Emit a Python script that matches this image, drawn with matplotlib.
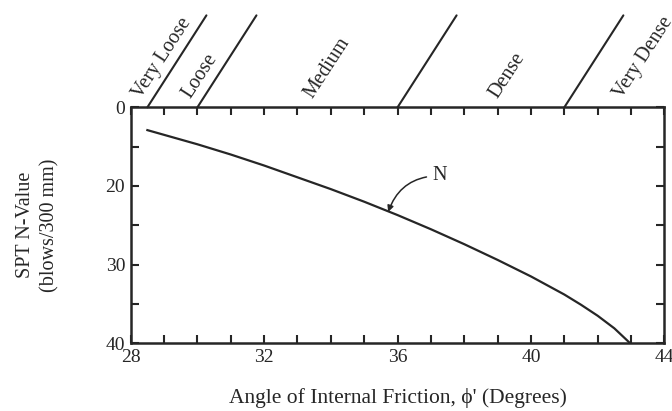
import matplotlib
matplotlib.use("Agg")
import matplotlib.pyplot as plt

plt.rcParams['font.family'] = ['Liberation Serif', 'DejaVu Serif']

# curve (phi in degrees, N on the printed axis)
phi = [28.5, 30.0, 31.0, 32.0, 33.0, 34.0, 35.0, 36.0, 37.0, 38.0, 39.0, 40.0, 41.0, 41.5, 42.0, 42.5, 42.95]
n_val = [12.9, 14.7, 16.0, 17.4, 18.9, 20.4, 22.0, 23.7, 25.5, 27.4, 29.4, 31.5, 33.8, 35.1, 36.5, 38.1, 39.9]

# relative density boundaries along the top and their labels
dens_lines = [28.5, 30.0, 36.0, 41.0]
dens_names = ['Very Loose', 'Loose', 'Medium', 'Dense', 'Very Dense']
dens_label_x = [28.42, 29.92, 33.57, 39.12, 42.85]

ytick_vals = [10, 20, 30, 40]
ytick_text = ['0', '20', '30', '40']
xtick_vals = [28, 32, 36, 40, 44]

ink = '#262626'

fig = plt.figure(figsize=(6.72, 4.11), dpi=100)
fig.patch.set_facecolor('white')
ax = fig.add_axes([0.1945, 0.1647, 0.7942, 0.5742])

ax.plot(phi, n_val, color=ink, lw=1.6)

ax.set_xlim(28, 44)
ax.set_ylim(40, 10)
ax.set_xticks(xtick_vals)
ax.set_xticks(range(29, 44), minor=True)
ax.set_yticks(ytick_vals)
ax.set_yticklabels(ytick_text)
ax.set_yticks([15, 25, 35], minor=True)

for s in ax.spines.values():
    s.set_linewidth(1.8)
    s.set_color(ink)

ax.tick_params(which='both', direction='in', top=True, right=True,
               color=ink, width=1.5, length=6, labelsize=14, labelcolor=ink)
ax.tick_params(axis='x', which='major', pad=4)
ax.tick_params(axis='y', which='major', pad=4)

ax.set_xlabel("Angle of Internal Friction, \u03d5' (Degrees)", fontsize=15.5,
              color=ink, va='center')
ax.xaxis.set_label_coords(0.5, -0.232)
ax.set_ylabel("SPT N-Value\n(blows/300 mm)", fontsize=14.5, color=ink,
              linespacing=1.35, va='center')
ax.yaxis.set_label_coords(-0.1746, 0.5)

# inclined boundary lines above the frame
for x in dens_lines:
    ax.annotate('', xy=(x, 10), xytext=(42.5, 66.2), textcoords='offset points',
                annotation_clip=False,
                arrowprops=dict(arrowstyle='-', color=ink, lw=1.5,
                                shrinkA=0, shrinkB=0))

for name, x in zip(dens_names, dens_label_x):
    ax.annotate(name, xy=(x, 10), xytext=(0, 4), textcoords='offset points',
                rotation=57, rotation_mode='anchor', ha='left', va='bottom',
                fontsize=14.5, color=ink, annotation_clip=False)

ax.annotate('N', xy=(35.72, 23.3), xytext=(37.25, 18.7),
            fontsize=14.5, color=ink, ha='center', va='center',
            arrowprops=dict(arrowstyle='-|>', color=ink, lw=1.1,
                            mutation_scale=9, shrinkA=2, shrinkB=0,
                            connectionstyle='arc3,rad=0.35'))

fig.savefig('out.png', dpi=100)
